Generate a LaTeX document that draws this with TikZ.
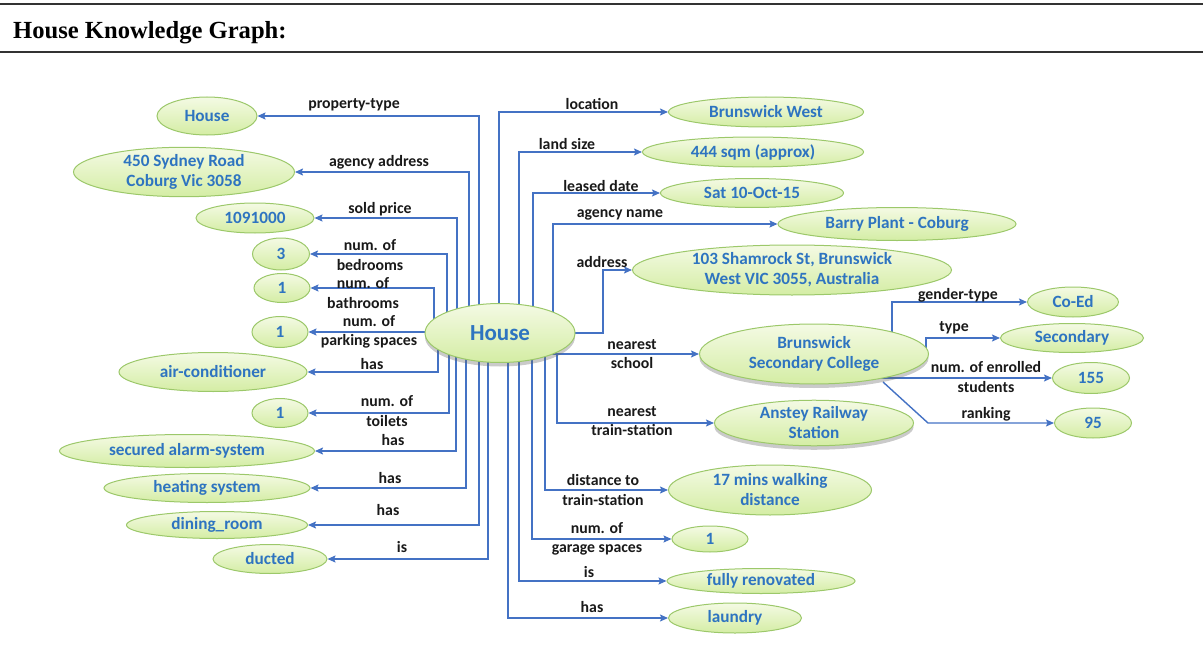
\documentclass[tikz,border=0pt]{standalone}
\usepackage{fontspec}
\setmainfont{Liberation Serif}
\newfontfamily\carl{Carlito}
\usetikzlibrary{arrows.meta,shadows,backgrounds,calc,shapes.geometric}
\definecolor{edgeblue}{HTML}{4472C4}
\definecolor{valblue}{HTML}{2E74C0}
\definecolor{nodeline}{HTML}{9CC86A}
\definecolor{nodetop}{HTML}{F4FAE4}
\definecolor{nodebot}{HTML}{D4EDA4}
\definecolor{rulegrey}{HTML}{333333}

\begin{document}
\begin{tikzpicture}[x=1pt,y=-1pt,
  val/.style={ellipse, draw=nodeline, line width=1pt, top color=nodetop, bottom color=nodebot,
    inner sep=0pt, text=valblue, font=\carl\bfseries\fontsize{17.2}{20}\selectfont, align=center},
  rel/.style={font=\carl\bfseries\fontsize{15.8}{19.5}\selectfont, text=black!90, align=center, inner sep=0pt},
  edge/.style={draw=edgeblue, line width=1.4pt, -{Stealth[length=8pt,width=7pt,inset=1.5pt]}},
  lift/.style={drop shadow={shadow xshift=0pt, shadow yshift=-4pt, opacity=0.35, fill=black!60}},
]
\useasboundingbox (0,0) rectangle (1203,661);

% header
\draw[rulegrey, line width=2pt] (0,4) -- (1203,4);
\draw[rulegrey, line width=1.6pt] (0,52) -- (1203,52);
\node[anchor=base west, inner sep=0pt, font=\bfseries\fontsize{24.6}{28}\selectfont] (title) at (13,39) {House Knowledge Graph:};

% central entity
\node[val, lift, minimum width=150pt, minimum height=59pt, font=\carl\bfseries\fontsize{23}{26}\selectfont] (hub) at (500,333) {House};

% values on the left
\node[val, minimum width=100pt, minimum height=38pt] (tHouse) at (207,116) {House};
\node[val, minimum width=221pt, minimum height=48pt] (agAddr) at (184,172) {450 Sydney Road\\Coburg Vic 3058};
\node[val, minimum width=118pt, minimum height=30pt] (sold) at (255,218) {1091000};
\node[val, minimum width=57pt, minimum height=32pt] (bed) at (281,254) {3};
\node[val, minimum width=56pt, minimum height=29pt] (bath) at (282,288) {1};
\node[val, minimum width=56pt, minimum height=31pt] (park) at (280,332) {1};
\node[val, minimum width=188pt, minimum height=39pt] (air) at (213,372) {air-conditioner};
\node[val, minimum width=56pt, minimum height=29pt] (toil) at (280,413) {1};
\node[val, minimum width=255pt, minimum height=33pt] (alarm) at (187,451) {secured alarm-system};
\node[val, minimum width=206pt, minimum height=29pt] (heat) at (207,488) {heating system};
\node[val, minimum width=181pt, minimum height=27pt] (dine) at (217,525) {dining\_room};
\node[val, minimum width=114pt, minimum height=29pt] (duct) at (270,559) {ducted};

% values on the right
\node[val, minimum width=195pt, minimum height=30pt] (loc) at (766,112) {Brunswick West};
\node[val, minimum width=221pt, minimum height=30pt] (land) at (753,152) {444 sqm (approx)};
\node[val, minimum width=183pt, minimum height=29pt] (leased) at (752,193) {Sat 10-Oct-15};
\node[val, minimum width=238pt, minimum height=33pt] (agName) at (897,224) {Barry Plant - Coburg};
\node[val, minimum width=319pt, minimum height=50pt] (addr) at (792,270) {103 Shamrock St, Brunswick\\West VIC 3055, Australia};
\node[val, lift, minimum width=229pt, minimum height=60pt] (school) at (814,354) {Brunswick\\Secondary College};
\node[val, minimum width=91pt, minimum height=30pt] (coed) at (1073,302) {Co-Ed};
\node[val, minimum width=143pt, minimum height=29pt] (secy) at (1072,338) {Secondary};
\node[val, minimum width=77pt, minimum height=31pt] (n155) at (1091,378) {155};
\node[val, minimum width=77pt, minimum height=30pt] (n95) at (1093,423) {95};
\node[val, lift, minimum width=199pt, minimum height=45pt] (station) at (814,423) {Anstey Railway\\Station};
\node[val, minimum width=203pt, minimum height=50pt] (walk) at (770,490) {17 mins walking\\distance};
\node[val, minimum width=76pt, minimum height=26pt] (garage) at (710,539) {1};
\node[val, minimum width=188pt, minimum height=25pt] (reno) at (761,581) {fully renovated};
\node[val, minimum width=133pt, minimum height=30pt] (laundry) at (735,618) {laundry};

% relation labels
\node[rel] (lPropType) at (354,105) {property-type};
\node[rel] (lAgAddr) at (379,162) {agency address};
\node[rel] (lSold) at (380,209) {sold price};
\node[rel] (lBed) at (370,255) {num. of\\bedrooms};
\node[rel] (lBath) at (363,293) {num. of\\bathrooms};
\node[rel] (lPark) at (369,332) {num. of\\parking spaces};
\node[rel] (lAir) at (372,364) {has};
\node[rel] (lToil) at (387,411) {num. of\\toilets};
\node[rel] (lAlarm) at (393,440) {has};
\node[rel] (lHeat) at (390,478) {has};
\node[rel] (lDine) at (388,510) {has};
\node[rel] (lDuct) at (402,547) {is};
\node[rel] (lLoc) at (592,104) {location};
\node[rel] (lLand) at (567,144) {land size};
\node[rel] (lLeased) at (601,186) {leased date};
\node[rel] (lAgName) at (620,215) {agency name};
\node[rel] (lAddr) at (602,262) {address};
\node[rel] (lSchool) at (632,354) {nearest\\school};
\node[rel] (lStation) at (632,421) {nearest\\train-station};
\node[rel] (lWalk) at (603,490) {distance to\\train-station};
\node[rel] (lGarage) at (597,539) {num. of\\garage spaces};
\node[rel] (lReno) at (589,572) {is};
\node[rel] (lLaundry) at (592,607) {has};
\node[rel] (lGender) at (958,295) {gender-type};
\node[rel] (lType) at (954,328) {type};
\node[rel] (lEnrol) at (986,377) {num. of enrolled\\students};
\node[rel] (lRank) at (986,414) {ranking};

% connectors, kept under the ellipses
\begin{scope}[on background layer]
  % upwards to the left
  \draw[edge] (hub.center) ++(-21,0) |- (tHouse);
  \draw[edge] (hub.center) ++(-31,0) |- (agAddr);
  \draw[edge] (hub.center) ++(-43,0) |- (sold);
  \draw[edge] (hub.center) ++(-53,0) |- (bed);
  \draw[edge] (hub.center) ++(-66,0) |- (bath);
  \draw[edge] (hub.center |- park.east) -- (park.east);
  % downwards to the left
  \draw[edge] (hub.center) ++(-62,0) |- (air);
  \draw[edge] (hub.center) ++(-51,0) |- (toil);
  \draw[edge] (hub.center) ++(-44,0) |- (alarm);
  \draw[edge] (hub.center) ++(-34,0) |- (heat);
  \draw[edge] (hub.center) ++(-21,0) |- (dine);
  \draw[edge] (hub.center) ++(-12,0) |- (duct);
  % upwards to the right
  \draw[edge] (hub.center) ++(-1,0) |- (loc);
  \draw[edge] (hub.center) ++(19,0) |- (land);
  \draw[edge] (hub.center) ++(33,0) |- (leased);
  \draw[edge] (hub.center) ++(53,0) |- (agName);
  \draw[edge] (hub.center) -| ($(addr.west)+(-29,0)$) -- (addr.west);
  % to the right and downwards
  \draw[edge] (hub.center |- school.west) -- (school.west);
  \draw[edge] (hub.center) ++(57,21) |- (station);
  \draw[edge] (hub.center) ++(45,0) |- (walk);
  \draw[edge] (hub.center) ++(32,0) |- (garage);
  \draw[edge] (hub.center) ++(19,0) |- (reno);
  \draw[edge] (hub.center) ++(8,0) |- (laundry);
  % school attributes
  \draw[edge] (school.center) ++(78,0) |- (coed);
  \draw[edge] (school.center) ++(112,0) |- (secy);
  \draw[edge] (school.center |- n155.west) -- (n155.west);
  \draw[edge] (school.center) ++(69,28) -- ($(n95.west)+(-126,0)$) -- (n95.west);
\end{scope}
\end{tikzpicture}
\end{document}
